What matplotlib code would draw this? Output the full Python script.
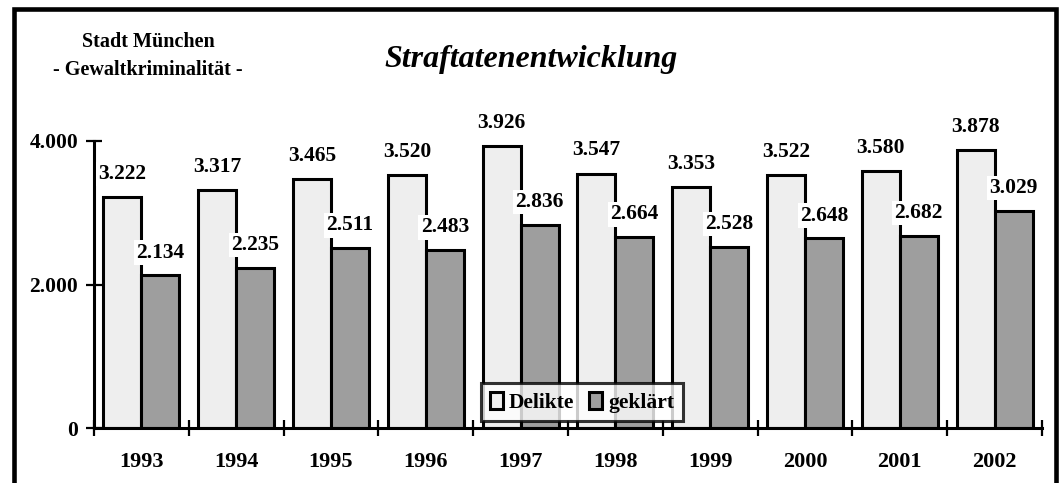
import matplotlib
matplotlib.use("Agg")
import matplotlib.pyplot as plt
from matplotlib.patches import Rectangle
import numpy as np

years = ["1993", "1994", "1995", "1996", "1997", "1998", "1999", "2000", "2001", "2002"]
delikte = [3222, 3317, 3465, 3520, 3926, 3547, 3353, 3522, 3580, 3878]
geklaert = [2134, 2235, 2511, 2483, 2836, 2664, 2528, 2648, 2682, 3029]
yticks = [0, 2000, 4000]
ytick_labels = ["0", "2.000", "4.000"]

plt.rcParams['font.family'] = ['Liberation Serif', 'DejaVu Serif']
plt.rcParams['font.weight'] = 'bold'

W, H = 1060, 483
fig = plt.figure(figsize=(W / 100, H / 100), dpi=100)
fig.patch.set_facecolor('white')

# axes placement in pixels
ax_l, ax_r, ax_top, ax_bot = 94, 1042, 141, 428
ax = fig.add_axes([ax_l / W, (H - ax_bot) / H, (ax_r - ax_l) / W, (ax_bot - ax_top) / H])
ax.set_facecolor('white')

x = np.arange(len(years))
w = 0.4
lw = 2.2
ax.bar(x - 0.2, delikte, width=w, color='#eeeeee', edgecolor='black', linewidth=lw, label='Delikte', zorder=2)
ax.bar(x + 0.2, geklaert, width=w, color='#9e9e9e', edgecolor='black', linewidth=lw, label='geklärt', zorder=2)

def fmt(v):
    return f"{v:,}".replace(",", ".")

FS = 15.5
for xi, v in zip(x, delikte):
    ax.annotate(fmt(v), (xi - 0.2, v), xytext=(0, 13), textcoords='offset points',
                ha='center', va='baseline', fontsize=FS, fontweight='bold', zorder=5,
                annotation_clip=False,
                bbox=dict(boxstyle='square,pad=0.1', fc='white', ec='none'))
for xi, v in zip(x, geklaert):
    ax.annotate(fmt(v), (xi + 0.2, v), xytext=(0, 12.5), textcoords='offset points',
                ha='center', va='baseline', fontsize=FS, fontweight='bold', zorder=5,
                annotation_clip=False,
                bbox=dict(boxstyle='square,pad=0.1', fc='white', ec='none'))

ax.set_xlim(-0.5, len(years) - 0.5)
ax.set_ylim(0, 4000)

for s in ['top', 'right']:
    ax.spines[s].set_visible(False)
for s in ['left', 'bottom']:
    ax.spines[s].set_linewidth(2.2)
    ax.spines[s].set_zorder(4)

ax.set_yticks(yticks)
ax.set_yticklabels(ytick_labels, fontsize=FS, fontweight='bold')
ax.tick_params(axis='y', direction='inout', length=11, width=1.6, pad=6)

ax.set_xticks(x)
ax.set_xticklabels(years, fontsize=16, fontweight='bold')
ax.set_xticks(np.arange(-0.5, len(years), 1.0), minor=True)
ax.tick_params(axis='x', which='major', length=0, pad=17)
ax.tick_params(axis='x', which='minor', direction='inout', length=12, width=1.6)

leg = ax.legend(loc='center', bbox_to_anchor=(0.515, 0.089), ncol=2, frameon=True,
                fancybox=False, prop={'family': 'Liberation Serif', 'weight': 'bold', 'size': 15.5},
                handlelength=0.6, handleheight=0.8, handletextpad=0.3, columnspacing=0.7,
                borderpad=0.4, borderaxespad=0)
leg.get_frame().set_edgecolor('black')
leg.get_frame().set_linewidth(2.2)
leg.set_zorder(6)

fig.text(148 / W, 1 - 42 / H, "Stadt München", ha='center', va='center', fontsize=14.5, fontweight='bold')
fig.text(148 / W, 1 - 70 / H, "- Gewaltkriminalität -", ha='center', va='center', fontsize=14.5, fontweight='bold')
fig.text(531 / W, 1 - 59 / H, "Straftatenentwicklung", ha='center', va='center', fontsize=23,
         fontweight='bold', style='italic')

border = Rectangle((14 / W, -0.1), (1055.5 - 14) / W, (H - 9.5) / H + 0.1, transform=fig.transFigure,
                   fill=False, edgecolor='black', linewidth=3.3)
fig.add_artist(border)

fig.savefig('out.png', dpi=100, facecolor='white')
